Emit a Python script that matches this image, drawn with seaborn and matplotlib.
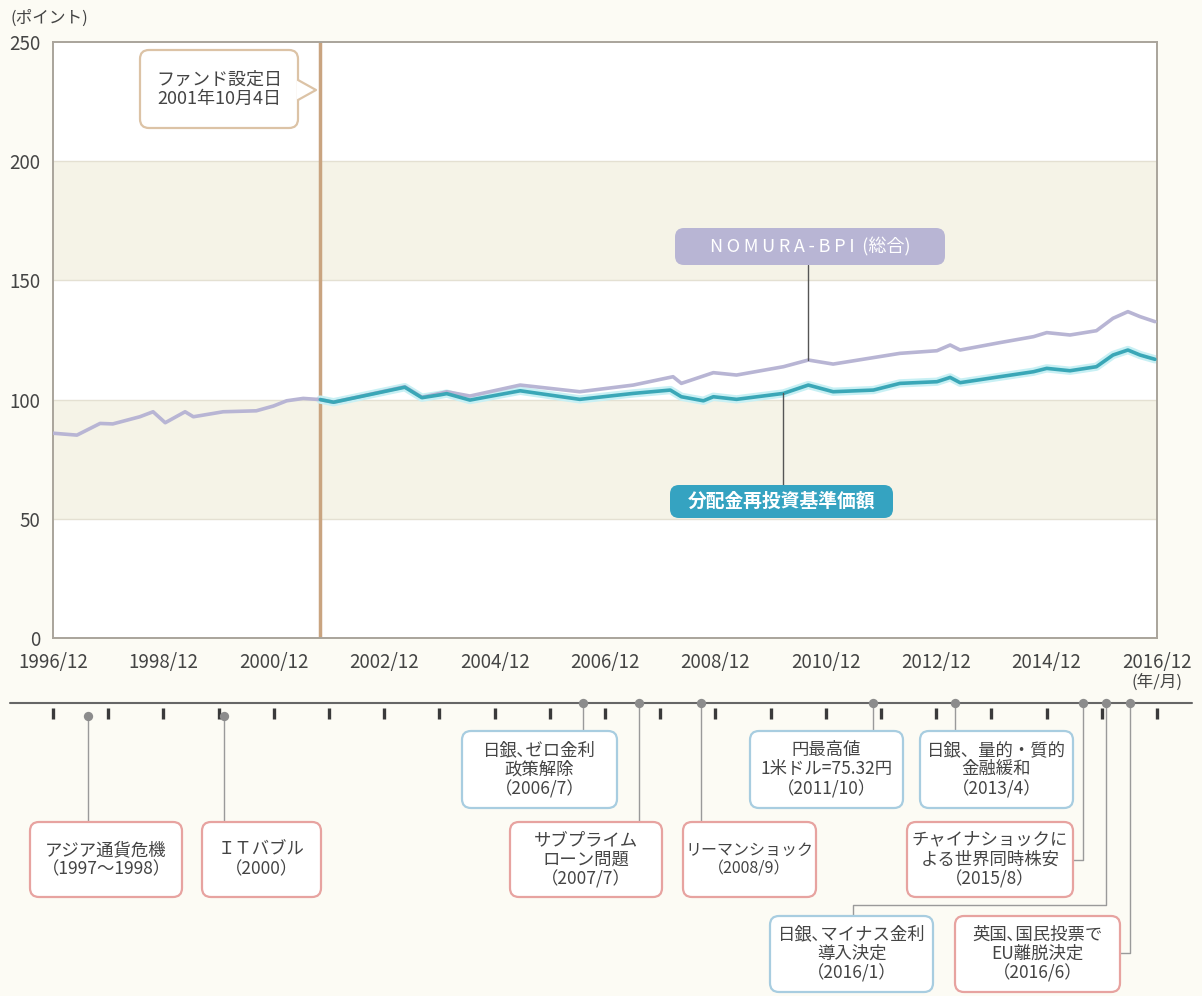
import numpy as np
import pandas as pd
import matplotlib
matplotlib.use('Agg')
import matplotlib.pyplot as plt
from matplotlib.patches import FancyBboxPatch, Polygon
import seaborn as sns

# data (decimal years, index points)
bpi_dates = [1996.92, 1997.35, 1997.77, 1998.00, 1998.49, 1998.73, 1998.95, 1999.31, 1999.46,
             2000.00, 2000.60, 2000.91, 2001.15, 2001.45, 2001.76, 2002.00, 2003.29, 2003.60,
             2003.93, 2004.05, 2004.47, 2005.38, 2006.46, 2007.43, 2008.15, 2008.30, 2008.88,
             2009.30, 2010.15, 2010.60, 2011.05, 2012.26, 2012.93, 2013.17, 2013.35, 2014.07,
             2014.68, 2014.92, 2015.34, 2015.82, 2016.12, 2016.39, 2016.61, 2016.88]
bpi_values = [85.9, 85.1, 90.0, 89.8, 92.8, 94.9, 90.3, 94.9, 92.8,
              94.9, 95.3, 97.3, 99.5, 100.5, 100.0, 98.9, 105.4, 101.0,
              102.6, 103.3, 101.5, 106.1, 103.3, 106.1, 109.6, 106.8, 111.3,
              110.3, 113.8, 116.6, 114.9, 119.4, 120.5, 122.9, 120.8, 123.9,
              126.4, 128.1, 127.1, 128.9, 134.1, 136.9, 134.8, 132.7]

fund_dates = [2001.76, 2002.00, 2003.29, 2003.60, 2003.93, 2004.05, 2004.47, 2005.38, 2006.46,
              2007.43, 2008.10, 2008.30, 2008.70, 2008.88, 2009.30, 2010.15, 2010.60, 2011.05,
              2011.78, 2012.26, 2012.93, 2013.17, 2013.35, 2014.07, 2014.68, 2014.92, 2015.34,
              2015.82, 2016.12, 2016.39, 2016.61, 2016.88]
fund_values = [100.0, 98.9, 105.2, 100.8, 102.0, 102.5, 99.8, 103.7, 100.1,
               102.6, 104.0, 101.2, 99.5, 101.2, 100.1, 102.6, 106.1, 103.3,
               104.0, 106.8, 107.5, 109.3, 107.1, 109.6, 111.7, 113.1, 112.1,
               113.8, 118.7, 120.8, 118.7, 116.9]

launch_date = 2001.76  # 2001/10/4
year_ticks = [1996.917, 1997.917, 1998.917, 1999.917, 2000.917, 2001.917, 2002.917,
              2003.917, 2004.917, 2005.917, 2006.917, 2007.917, 2008.917, 2009.917,
              2010.917, 2011.917, 2012.917, 2013.917, 2014.917, 2015.917, 2016.917]
tick_labels = ['1996/12', '', '1998/12', '', '2000/12', '', '2002/12', '', '2004/12', '',
               '2006/12', '', '2008/12', '', '2010/12', '', '2012/12', '', '2014/12', '',
               '2016/12']
y_ticks = [0, 50, 100, 150, 200, 250]

event_dates = [1997.55, 2000.02, 2006.52, 2007.53, 2008.66, 2011.77, 2013.26, 2015.58,
               2016.00, 2016.43]
event_labels = ['アジア通貨危機\n（1997～1998）', 'ＩＴバブル\n（2000）',
                '日銀､ゼロ金利\n政策解除\n（2006/7）', 'サブプライム\nローン問題\n（2007/7）',
                'リーマンショック\n（2008/9）', '円最高値\n1米ドル=75.32円\n（2011/10）',
                '日銀、量的・質的\n金融緩和\n（2013/4）', 'チャイナショックに\nよる世界同時株安\n（2015/8）',
                '日銀､マイナス金利\n導入決定\n（2016/1）', '英国､国民投票で\nEU離脱決定\n（2016/6）']
event_kind = ['risk', 'risk', 'policy', 'risk', 'risk', 'policy', 'policy', 'risk', 'policy', 'risk']

# colours
BG = '#fcfbf4'
BAND = '#f5f3e7'
GRID = '#e4e0d2'
BPI_C = '#b8b5d4'
FUND_C = '#3aa7b7'
LAUNCH_C = '#c9a480'
TXT = '#444444'
EDGE = {'risk': '#e7a3a0', 'policy': '#a8cde0'}

sns.set_theme(style='white')
plt.rcParams['font.family'] = ['Noto Sans CJK JP', 'DejaVu Sans']

W, H = 1202, 996
X0, X1 = year_ticks[0], year_ticks[-1]
AX_L, AX_R, AX_T, AX_B = 53, 1157, 42, 638


def pxd(p):
    # pixel column -> date on the shared time scale
    return X0 + (p - AX_L) * (X1 - X0) / (AX_R - AX_L)


fig = plt.figure(figsize=(W / 100, H / 100), dpi=100, facecolor=BG)
ax = fig.add_axes([AX_L / W, 1 - AX_B / H, (AX_R - AX_L) / W, (AX_B - AX_T) / H])
ax.set_facecolor('white')
for lo, hi in [(50, 100), (150, 200)]:
    ax.axhspan(lo, hi, color=BAND, lw=0, zorder=0)
for v in [50, 100, 150, 200]:
    ax.axhline(v, color=GRID, lw=1, zorder=0.5)

df = pd.concat([
    pd.DataFrame({'date': bpi_dates, 'value': bpi_values, 'series': 'bpi'}),
    pd.DataFrame({'date': fund_dates, 'value': fund_values, 'series': 'fund'}),
])
sns.lineplot(data=df[df.series == 'fund'], x='date', y='value', color='#c8f0f4', lw=6,
             ax=ax, zorder=2.5, legend=False)
sns.lineplot(data=df, x='date', y='value', hue='series',
             palette={'bpi': BPI_C, 'fund': FUND_C}, lw=2.6, ax=ax, zorder=3, legend=False)

ax.axvline(launch_date, color=LAUNCH_C, lw=2.5, zorder=2)
ax.set_xlim(X0, X1)
ax.set_ylim(0, 250)
ax.set_xticks(year_ticks)
ax.set_xticklabels(tick_labels)
ax.set_yticks(y_ticks)
ax.set_xlabel('')
ax.set_ylabel('')
ax.tick_params(axis='x', direction='in', length=10, width=2.2, color='#333333', pad=10,
               labelsize=13.5, labelcolor=TXT)
ax.tick_params(axis='y', length=0, pad=9, labelsize=13.5, labelcolor=TXT)
for s in ax.spines.values():
    s.set_color('#a9a49b')
    s.set_linewidth(1.4)

# connectors from series labels
i_b = bpi_dates.index(2010.60)
ax.plot([bpi_dates[i_b]] * 2, [bpi_values[i_b], 156.5], color='#555555', lw=1, zorder=4)
i_f = fund_dates.index(2010.15)
ax.plot([fund_dates[i_f]] * 2, [fund_values[i_f], 64.2], color='#555555', lw=1, zorder=4)

fig.text(10 / W, 1 - 18 / H, '(ポイント)', fontsize=12, color=TXT, va='center')
fig.text(1157 / W, 1 - 682 / H, '(年/月)', fontsize=12, color=TXT, ha='center', va='center')

# overlay in pixel coordinates for boxes
ov = fig.add_axes([0, 0, 1, 1], zorder=6)
ov.set_xlim(0, W)
ov.set_ylim(H, 0)
ov.axis('off')


def box(x, y, w, h, text, fc='white', ec=None, tc=TXT, size=12, weight='normal', ls=1.1):
    ov.add_patch(FancyBboxPatch((x, y), w, h, boxstyle='round,pad=0,rounding_size=9',
                                fc=fc, ec=ec if ec else 'none', lw=1.6))
    ov.text(x + w / 2, y + h / 2, text, ha='center', va='center', fontsize=size,
            color=tc, weight=weight, linespacing=ls)


# fund launch callout
box(140, 50, 158, 78, 'ファンド設定日\n2001年10月4日', ec='#dcc3a6', size=13, ls=1.1)
ov.add_patch(Polygon([(297, 80), (316, 90), (297, 100)], closed=True, fc='white', ec='none'))
ov.plot([298, 316, 298], [80, 90, 100], color='#dcc3a6', lw=1.6)

# series labels
box(675, 228, 270, 37, 'N\u2009O\u2009M\u2009U\u2009R\u2009A\u2009-\u2009B\u2009P\u2009I\u2009 (総合)',
    fc=BPI_C, tc='white', size=13)
box(670, 485, 223, 33, '分配金再投資基準価額', fc='#35a3c1', tc='white', size=13.5,
    weight='bold')

# timeline axes: dates across, pixels down
tl = fig.add_axes([0, 0, 1, 1], zorder=5)
tl.set_xlim(pxd(0), pxd(W))
tl.set_ylim(H, 0)
tl.axis('off')
LINE_Y = 703
tl.plot([pxd(10), pxd(1192)], [LINE_Y, LINE_Y], color='#666666', lw=1.5)
for d in year_ticks:
    tl.plot([d, d], [708, 719], color='#3a3a3a', lw=2.4, solid_capstyle='butt')

boxes = [(30, 822, 152, 75), (202, 822, 119, 75), (462, 731, 155, 77), (510, 822, 152, 75),
         (683, 822, 133, 75), (750, 731, 153, 77), (920, 731, 153, 77), (907, 822, 166, 75),
         (770, 916, 163, 76), (955, 916, 165, 76)]
box_size = [12.5, 12.5, 12.5, 12.5, 11.5, 12.5, 12.5, 12.5, 12.5, 12.5]
dot_y = [716, 716, LINE_Y, LINE_Y, LINE_Y, LINE_Y, LINE_Y, LINE_Y, LINE_Y, LINE_Y]
# elbows: list of (pixel x or None for event date, pixel y)
elbows = [None, None, None, None, None, None, None,
          [(None, 860), (1073, 860)],
          [(None, 905), (853, 905), (853, 916)],
          [(None, 953), (1120, 953)]]

for d, lab, kind, (bx, by, bw, bh), fs, dy, el in zip(event_dates, event_labels, event_kind,
                                                       boxes, box_size, dot_y, elbows):
    if el is None:
        xs, ys = [d, d], [dy, by]
    else:
        xs = [d] + [d if px is None else pxd(px) for px, _ in el]
        ys = [dy] + [py for _, py in el]
    tl.plot(xs, ys, color='#9a9a9a', lw=1)
    tl.scatter([d], [dy], s=45, color='#8c8c8c', zorder=5, lw=0)
    box(bx, by, bw, bh, lab, ec=EDGE[kind], size=fs)

fig.savefig('out.png', dpi=100, facecolor=BG)
